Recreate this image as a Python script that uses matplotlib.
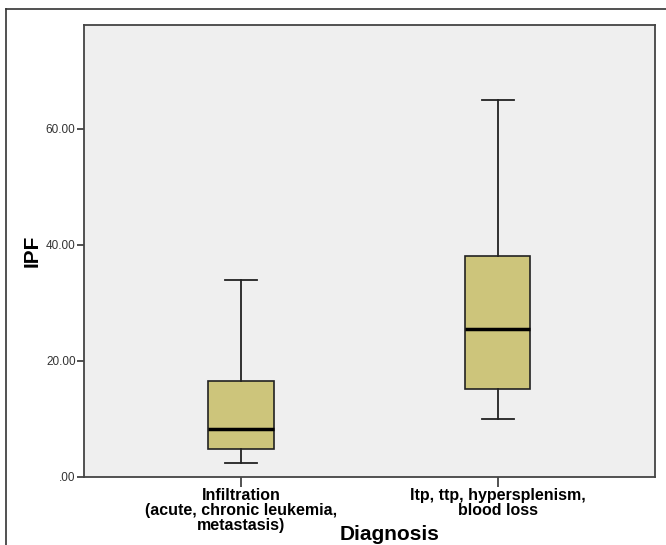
import matplotlib
matplotlib.use("Agg")
import matplotlib.pyplot as plt
from matplotlib.lines import Line2D

# box statistics
categories = ["Infiltration\n(acute, chronic leukemia,\nmetastasis)",
              "Itp, ttp, hypersplenism,\nblood loss"]
whislo = [2.4, 10.0]
q1 = [4.8, 15.2]
med = [8.2, 25.5]
q3 = [16.5, 38.0]
whishi = [34.0, 65.0]
yticks = [0, 20, 40, 60]
yticklabels = [".00", "20.00", "40.00", "60.00"]

plt.rcParams['font.family'] = ['Liberation Sans', 'DejaVu Sans']

fig = plt.figure(figsize=(6.66, 5.45), dpi=100)
ax = fig.add_axes([0.126, 0.125, 0.857, 0.829])
ax.set_facecolor("#efefef")

stats = []
for i in range(len(categories)):
    stats.append({"whislo": whislo[i], "q1": q1[i], "med": med[i],
                  "q3": q3[i], "whishi": whishi[i], "fliers": []})

ax.bxp(stats, positions=[1, 2], widths=0.255, patch_artist=True, showfliers=False,
       boxprops=dict(facecolor="#cdc57b", edgecolor="#222222", linewidth=1.2),
       medianprops=dict(color="black", linewidth=2.5),
       whiskerprops=dict(color="#222222", linewidth=1.3),
       capprops=dict(color="#222222", linewidth=1.3),
       capwidths=0.125)

ax.set_xlim(0.389, 2.611)
ax.set_ylim(0, 77.9)
ax.set_yticks(yticks)
ax.set_yticklabels(yticklabels, fontsize=8.5, color="#333333")
ax.set_xticks([1, 2])
ax.set_xticklabels(categories, fontsize=11.5, fontweight="bold", linespacing=1.0)
ax.tick_params(axis="y", length=5, width=1.2, color="#333333", pad=1)
ax.tick_params(axis="x", length=7, width=1.2, color="#333333", pad=1)
for s in ax.spines.values():
    s.set_color("#444444")
    s.set_linewidth(1.3)

ax.set_ylabel("IPF", fontsize=15, fontweight="bold")
ax.yaxis.set_label_coords(-0.074, 0.5)
ax.set_xlabel("Diagnosis", fontsize=15, fontweight="bold")
ax.xaxis.set_label_coords(0.535, -0.106)

# outer frame (left and top edges visible)
fig.add_artist(Line2D([0.009, 0.009], [0, 0.983], color="#333333", linewidth=1.2))
fig.add_artist(Line2D([0.009, 1.0], [0.983, 0.983], color="#333333", linewidth=1.2))

fig.savefig("out.png", dpi=100)
